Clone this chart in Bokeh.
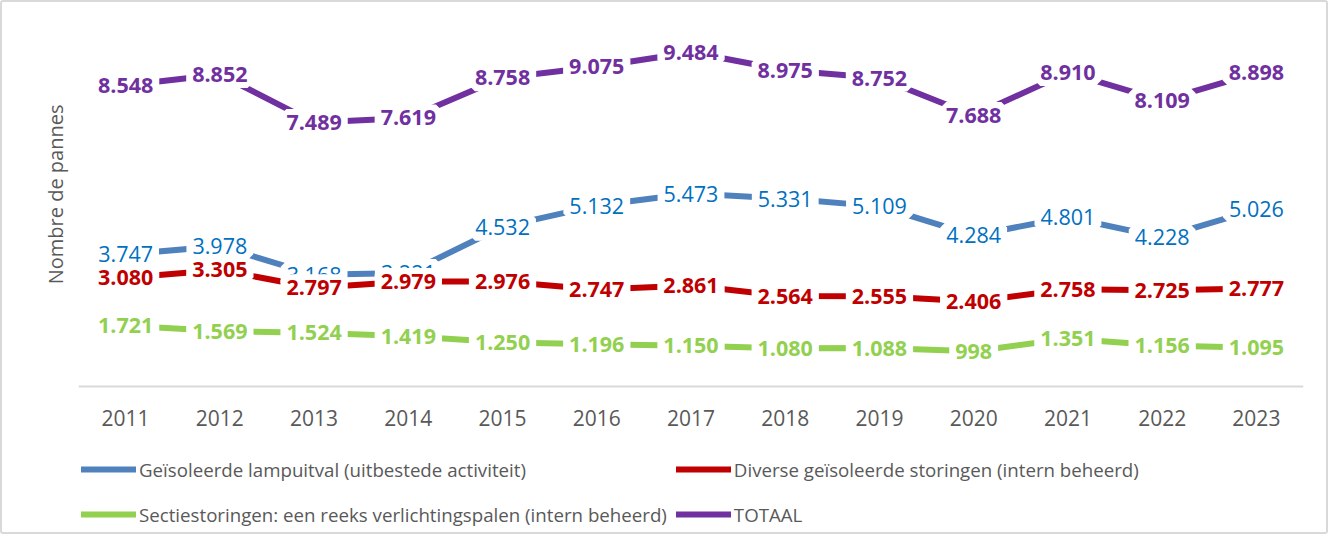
from bokeh.plotting import figure
from bokeh.models import ColumnDataSource, LabelSet, Legend, LegendItem, Range1d, FactorRange, Title
from bokeh.core.properties import value
from bokeh.embed import file_html
from bokeh.resources import INLINE

years = ["2011", "2012", "2013", "2014", "2015", "2016", "2017", "2018", "2019", "2020", "2021", "2022", "2023"]
lampuitval = [3747, 3978, 3168, 3221, 4532, 5132, 5473, 5331, 5109, 4284, 4801, 4228, 5026]
diverse = [3080, 3305, 2797, 2979, 2976, 2747, 2861, 2564, 2555, 2406, 2758, 2725, 2777]
sectie = [1721, 1569, 1524, 1419, 1250, 1196, 1150, 1080, 1088, 998, 1351, 1156, 1095]
totaal = [8548, 8852, 7489, 7619, 8758, 9075, 9484, 8975, 8752, 7688, 8910, 8109, 8898]

names = [
    "Geïsoleerde lampuitval (uitbestede activiteit)",
    "Diverse geïsoleerde storingen (intern beheerd)",
    "Sectiestoringen: een reeks verlichtingspalen (intern beheerd)",
    "TOTAAL",
]
y_title = "Nombre de pannes"

def fmt(v):
    return f"{v:,}".replace(",", ".")

FONT = "Open Sans"

p = figure(
    x_range=FactorRange(*years), y_range=Range1d(-4150, 10500),
    width=1328, height=534, output_backend="svg", toolbar_location=None,
    min_border_left=76, min_border_right=27, min_border_top=14, min_border_bottom=4,
    styles={"border": "2px solid #D9D9D9", "border-radius": "3px"},
)
p.outline_line_color = None
p.xgrid.grid_line_color = None
p.ygrid.grid_line_color = None

series = [
    (lampuitval, "#4F81BD", "#0070C0", "normal"),
    (diverse, "#C00000", "#C00000", "bold"),
    (sectie, "#92D050", "#92D050", "bold"),
    (totaal, "#7030A0", "#7030A0", "bold"),
]

renderers = []
sources = []
for vals, lc, tc, fw in series:
    src = ColumnDataSource(dict(x=years, y=vals, t=[fmt(v) for v in vals]))
    sources.append(src)
    r = p.line("x", "y", source=src, line_color=lc, line_width=6, line_cap="round")
    renderers.append(r)

for (vals, lc, tc, fw), src in zip(series, sources):
    lab = LabelSet(x="x", y="y", text="t", source=src, text_align="center", text_baseline="middle",
                   text_color=tc, text_font=value(FONT), text_font_size="21.5px", text_font_style=fw,
                   background_fill_color="white", border_line_color="white", border_line_width=12)
    p.add_layout(lab)

xa = p.xaxis[0]
xa.fixed_location = 0
xa.axis_line_color = "#D9D9D9"
xa.axis_line_width = 2
xa.major_tick_line_color = None
xa.minor_tick_line_color = None
xa.major_label_text_color = "#595959"
xa.major_label_text_font = FONT
xa.major_label_text_font_size = "21px"
xa.major_label_standoff = 18

p.yaxis.visible = False

yt = Title(text=y_title, align="right", offset=88, standoff=20,
           text_font=FONT, text_font_size="20px", text_font_style="normal", text_color="#595959")
p.add_layout(yt, "left")

legend = Legend(
    items=[LegendItem(label=n, renderers=[r]) for n, r in zip(names, renderers)],
    ncols=2, orientation="horizontal", location=(3, 0),
    glyph_width=55, glyph_height=20, label_height=36, spacing=9, label_standoff=3,
    label_text_font=FONT, label_text_font_size="18.7px", label_text_color="#595959",
    border_line_color=None, background_fill_alpha=0, margin=0, padding=3,
)
p.add_layout(legend, "center")

open("out.html", "w").write(file_html(p, INLINE))
